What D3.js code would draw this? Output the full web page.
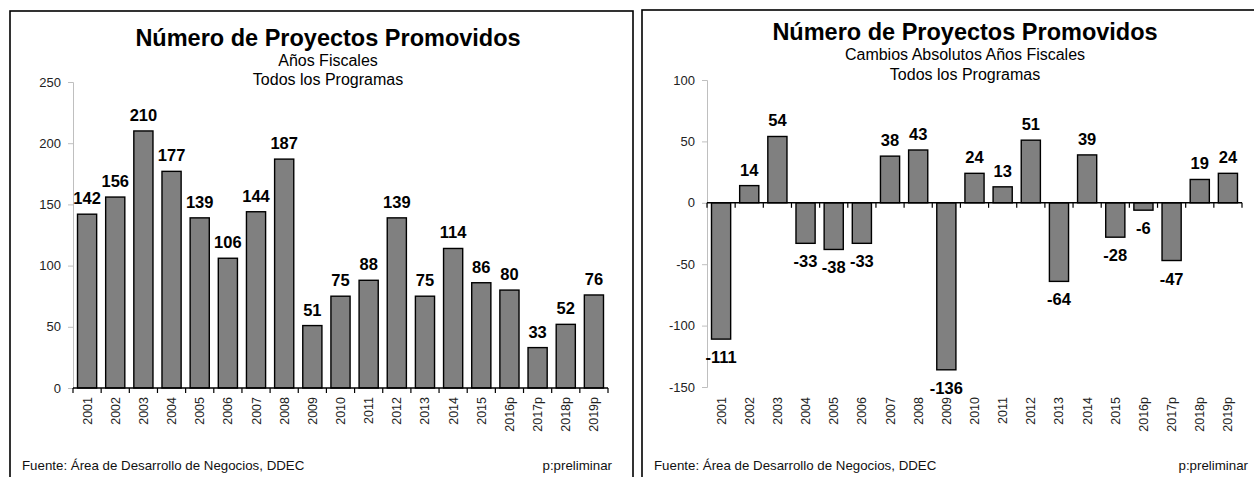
<!DOCTYPE html>
<html>
<head>
<meta charset="utf-8">
<script src="https://cdn.jsdelivr.net/npm/d3@7"></script>
<style>
  body { margin: 0; background: #fff; }
  svg { display: block; font-family: 'Liberation Sans', Arial, sans-serif; }
</style>
</head>
<body>
<div id="chartbox"></div>
<script>
const years = ['2001', '2002', '2003', '2004', '2005', '2006', '2007', '2008', '2009', '2010',
  '2011', '2012', '2013', '2014', '2015', '2016p', '2017p', '2018p', '2019p']
const projects = [142, 156, 210, 177, 139, 106, 144, 187, 51, 75, 88, 139, 75, 114, 86, 80, 33, 52, 76]
const changes = [-111, 14, 54, -33, -38, -33, 38, 43, -136, 24, 13, 51, -64, 39, -28, -6, -47, 19, 24]
const leftTicks = [0, 50, 100, 150, 200, 250]
const rightTicks = [-150, -100, -50, 0, 50, 100]

const title = 'Número de Proyectos Promovidos'
const source = 'Fuente: Área de Desarrollo de Negocios, DDEC'
const note = 'p:preliminar'

const WIDTH = 1254
const HEIGHT = 477

const svg = d3.select('#chartbox')
  .append('svg')
  .attr('width', WIDTH)
  .attr('height', HEIGHT)

const panels = [
  {
    frame: { x: 10, y: 11, w: 623 },
    plot: { x0: 73, x1: 608, top: 82, bottom: 388 },
    titleX: 328, titleY: 46,
    subs: ['Años Fiscales', 'Todos los Programas'], subY: [66, 85],
    values: projects, ticks: leftTicks,
    footY: 470, noteX: 612,
  },
  {
    frame: { x: 642, y: 10, w: 640 },
    plot: { x0: 707, x1: 1242, top: 80, bottom: 387 },
    titleX: 965, titleY: 40,
    subs: ['Cambios Absolutos Años Fiscales', 'Todos los Programas'], subY: [60, 80],
    values: changes, ticks: rightTicks,
    footY: 470, noteX: 1248,
  },
]

panels.forEach(p => {
  const g = svg.append('g')

  g.append('rect')
    .attr('x', p.frame.x)
    .attr('y', p.frame.y)
    .attr('width', p.frame.w)
    .attr('height', HEIGHT + 20)
    .attr('fill', 'none')
    .attr('stroke', '#000')
    .attr('stroke-width', 1.6)

  g.append('text')
    .attr('x', p.titleX)
    .attr('y', p.titleY)
    .attr('text-anchor', 'middle')
    .attr('font-size', 23.5)
    .attr('font-weight', 'bold')
    .text(title)

  p.subs.forEach((s, i) => {
    g.append('text')
      .attr('x', p.titleX)
      .attr('y', p.subY[i])
      .attr('text-anchor', 'middle')
      .attr('font-size', 16)
      .text(s)
  })

  const x = d3.scaleBand()
    .domain(years)
    .range([p.plot.x0, p.plot.x1])
    .paddingInner(0.32)
    .paddingOuter(0.16)

  const y = d3.scaleLinear()
    .domain(d3.extent(p.ticks))
    .range([p.plot.bottom, p.plot.top])

  // y axis, light grey
  const yAxis = g.append('g')
    .attr('transform', `translate(${p.plot.x0},0)`)
    .call(d3.axisLeft(y).tickValues(p.ticks).tickSize(5).tickPadding(7).tickFormat(d3.format('d')))
  yAxis.select('.domain').attr('stroke', '#bfbfbf')
  yAxis.selectAll('.tick line').attr('stroke', '#bfbfbf')
  yAxis.selectAll('.tick text')
    .attr('font-size', 13)
    .attr('font-family', 'Liberation Sans, Arial, sans-serif')
    .attr('fill', '#222')
    .text(d => d < 0 ? '-' + Math.abs(d) : d)

  g.selectAll('rect.bar')
    .data(p.values)
    .enter()
    .append('rect')
    .attr('class', 'bar')
    .attr('x', (d, i) => x(years[i]))
    .attr('y', d => y(Math.max(0, d)))
    .attr('width', x.bandwidth())
    .attr('height', d => Math.abs(y(d) - y(0)))
    .attr('fill', '#808080')
    .attr('stroke', '#000')
    .attr('stroke-width', 1.4)

  // category axis at zero, ticks between bars
  const zeroY = y(0)
  const step = x.step()
  const bounds = d3.range(years.length + 1).map(i => p.plot.x0 + i * step)
  g.append('line')
    .attr('x1', p.plot.x0).attr('x2', p.plot.x1)
    .attr('y1', zeroY).attr('y2', zeroY)
    .attr('stroke', '#000')
    .attr('stroke-width', 1.4)
  g.selectAll('line.xt')
    .data(bounds)
    .enter()
    .append('line')
    .attr('class', 'xt')
    .attr('x1', d => d).attr('x2', d => d)
    .attr('y1', zeroY).attr('y2', zeroY + 5)
    .attr('stroke', '#000')
    .attr('stroke-width', 1.2)

  g.selectAll('text.year')
    .data(years)
    .enter()
    .append('text')
    .attr('class', 'year')
    .attr('transform', d => `translate(${x(d) + x.bandwidth() / 2 + 4.5},397) rotate(-90)`)
    .attr('text-anchor', 'end')
    .attr('font-size', 12.5)
    .attr('fill', '#222')
    .text(d => d)

  g.selectAll('text.val')
    .data(p.values)
    .enter()
    .append('text')
    .attr('class', 'val')
    .attr('x', (d, i) => x(years[i]) + x.bandwidth() / 2)
    .attr('y', d => d >= 0 ? y(d) - 10 : y(d) + 24)
    .attr('text-anchor', 'middle')
    .attr('font-size', 16.5)
    .attr('font-weight', 'bold')
    .text(d => d)

  g.append('text')
    .attr('x', p.frame.x + 12)
    .attr('y', p.footY)
    .attr('font-size', 13.3)
    .attr('fill', '#111')
    .text(source)

  g.append('text')
    .attr('x', p.noteX)
    .attr('y', p.footY)
    .attr('text-anchor', 'end')
    .attr('font-size', 13.3)
    .attr('fill', '#111')
    .text(note)
})
</script>
</body>
</html>
